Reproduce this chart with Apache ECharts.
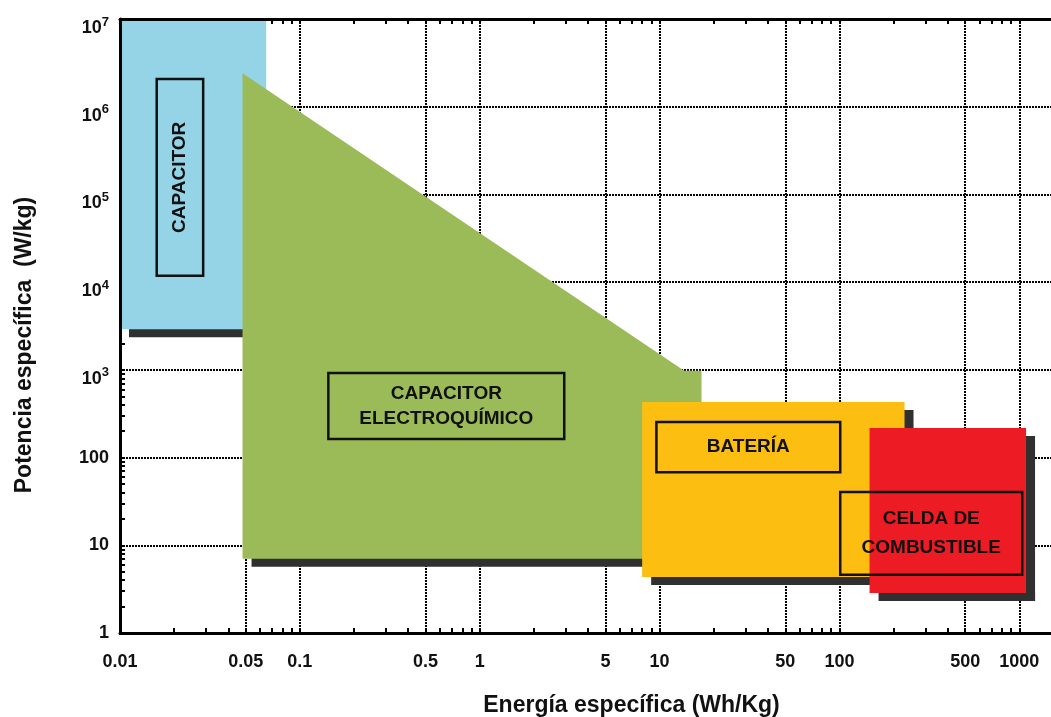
<!DOCTYPE html>
<html lang="es">
<head>
<meta charset="utf-8">
<title>Potencia específica vs Energía específica</title>
<script src="https://cdn.jsdelivr.net/npm/echarts@6/dist/echarts.min.js"></script>
<style>
  html, body { margin: 0; padding: 0; background: #ffffff; }
  #chart { width: 1051px; height: 717px; }
</style>
</head>
<body>
<div id="chart"></div>
<script>
// Energy axis (Wh/kg): labelled ticks and dotted grid positions
const energyTickLabels = [0.01, 0.05, 0.1, 0.5, 1, 5, 10, 50, 100, 500, 1000];
const energyGridValues = [0.05, 0.1, 0.5, 1, 5, 10, 50, 100, 500, 1000];

// Power axis (W/kg): labelled ticks and dotted grid positions
const powerTickLabels = [1, 10, 100, 1e3, 1e4, 1e5, 1e6, 1e7];
const powerGridValues = [10, 100, 1e3, 1e4, 1e5, 1e6];

// Technology names (as printed in their boxes)
const technologyLabels = ['CAPACITOR', 'CAPACITOR\nELECTROQUÍMICO', 'BATERÍA', 'CELDA DE\nCOMBUSTIBLE'];

// Operating regions, vertices as [energy Wh/kg, power W/kg]
const capacitorRegion = [[0.01, 1e7], [0.065, 1e7], [0.065, 2900], [0.01, 2900]];
const electrochemRegion = [[0.048, 2.4e6], [13.7, 980], [17.1, 980], [17.1, 7], [0.048, 7]];
const bateriaRegion = [[8, 430], [230, 430], [230, 4.35], [8, 4.35]];
const celdaRegion = [[147, 218], [1090, 218], [1090, 2.86], [147, 2.86]];

// Name boxes, opposite corners as [energy, power]
const capacitorNameBox = [[0.016, 2.07e6], [0.029, 1.18e4]];
const electrochemNameBox = [[0.144, 922], [2.95, 163]];
const bateriaNameBox = [[9.6, 255], [101, 68]];
const celdaNameBox = [[101, 40.5], [1038, 4.6]];

const regions = [capacitorRegion, electrochemRegion, bateriaRegion, celdaRegion];
const nameBoxes = [capacitorNameBox, electrochemNameBox, bateriaNameBox, celdaNameBox];

// Styling
const regionColors = ['#94D4E6', '#9BBB59', '#FCBE11', '#ED1C24'];
const shadowOnRight = [false, false, true, true];
const nameLineHeights = [22, 25, 22, 29];
const SHADOW = '#303030';
const SHADOW_DX = 9;
const SHADOW_DY = 8;
const FONT = '"Liberation Sans", Arial, Helvetica, sans-serif';

// Minor tick positions: 1..9 within every decade of each axis
function decadeTicks(fromExp, toExp, maxVal) {
  const out = [];
  for (let k = fromExp; k <= toExp; k++) {
    for (let m = 1; m <= 9; m++) {
      const v = Number((m * Math.pow(10, k)).toPrecision(3));
      if (v <= maxVal) out.push(v);
    }
  }
  return out;
}
const ENERGY_MIN = 0.01, ENERGY_MAX = 1500;
const POWER_MIN = 1, POWER_MAX = 1e7;
const energyMinorTicks = decadeTicks(-2, 3, ENERGY_MAX);
const powerMinorTicks = decadeTicks(0, 7, POWER_MAX);

function renderRegion(params, api) {
  const i = params.dataIndex;
  const pts = regions[i].map(p => api.coord(p));
  const xs = pts.map(p => p[0]);
  const ys = pts.map(p => p[1]);
  const x0 = Math.min(...xs), x1 = Math.max(...xs);
  const y0 = Math.min(...ys), y1 = Math.max(...ys);
  const children = [];

  // drop shadow below (and to the right for the boxed regions)
  const extra = shadowOnRight[i] ? SHADOW_DX : 0;
  children.push({
    type: 'rect',
    shape: { x: x0 + SHADOW_DX, y: y1 - 1, width: x1 - x0 - SHADOW_DX + extra, height: SHADOW_DY + 1 },
    style: { fill: SHADOW }
  });
  if (shadowOnRight[i]) {
    children.push({
      type: 'rect',
      shape: { x: x1 - 1, y: y0 + SHADOW_DY, width: SHADOW_DX + 1, height: y1 - y0 },
      style: { fill: SHADOW }
    });
  }

  // region fill
  children.push({ type: 'polygon', shape: { points: pts }, style: { fill: regionColors[i] } });

  // framed name
  const b0 = api.coord(nameBoxes[i][0]);
  const b1 = api.coord(nameBoxes[i][1]);
  children.push({
    type: 'rect',
    shape: { x: b0[0], y: b0[1], width: b1[0] - b0[0], height: b1[1] - b0[1] },
    style: { fill: 'none', stroke: '#111', lineWidth: 2.5 }
  });
  children.push({
    type: 'text',
    x: (b0[0] + b1[0]) / 2,
    y: (b0[1] + b1[1]) / 2,
    rotation: i === 0 ? Math.PI / 2 : 0,
    style: {
      text: technologyLabels[i],
      align: 'center',
      verticalAlign: 'middle',
      font: 'bold 19px ' + FONT,
      lineHeight: nameLineHeights[i],
      fill: '#111'
    }
  });
  return { type: 'group', children: children };
}

const tickLabelStyle = { fontFamily: FONT, fontWeight: 'bold', fontSize: 18, color: '#111' };
const titleStyle = { fontFamily: FONT, fontWeight: 'bold', fontSize: 23, color: '#111' };
const hidden = { show: false };

const chart = echarts.init(document.getElementById('chart'), null, { renderer: 'canvas' });

chart.setOption({
  animation: false,
  backgroundColor: '#ffffff',
  grid: { left: 120, right: 0, top: 19, bottom: 84, containLabel: false, outerBoundsMode: 'none' },
  xAxis: [
    {
      type: 'log', position: 'bottom', min: ENERGY_MIN, max: ENERGY_MAX, z: 0,
      axisLine: { show: true, onZero: false, lineStyle: { color: '#000', width: 3 } },
      axisTick: { show: true, inside: true, length: 5, lineStyle: { color: '#000', width: 2 }, customValues: energyMinorTicks },
      axisLabel: Object.assign({ customValues: energyTickLabels, margin: 20, formatter: v => String(v) }, tickLabelStyle),
      splitLine: hidden, minorTick: hidden,
      name: 'Energía específica (Wh/Kg)', nameLocation: 'middle', nameGap: 61,
      nameTextStyle: Object.assign({ padding: [0, 0, 0, 92] }, titleStyle)
    },
    {
      type: 'log', position: 'top', min: ENERGY_MIN, max: ENERGY_MAX, z: 0,
      axisLine: { show: false, onZero: false },
      axisTick: { show: true, inside: true, length: 5, lineStyle: { color: '#000', width: 2 }, customValues: energyMinorTicks },
      axisLabel: hidden, splitLine: hidden
    },
    {
      type: 'log', position: 'top', min: ENERGY_MIN, max: ENERGY_MAX, z: 10,
      axisLine: { show: true, onZero: false, lineStyle: { color: '#000', width: 3 } },
      axisTick: hidden, axisLabel: hidden, splitLine: hidden
    }
  ],
  yAxis: [
    {
      type: 'log', position: 'left', min: POWER_MIN, max: POWER_MAX, z: 0,
      axisLine: { show: false, onZero: false },
      axisTick: { show: true, inside: true, length: 5, lineStyle: { color: '#000', width: 2 }, customValues: powerMinorTicks },
      axisLabel: {
        customValues: powerTickLabels,
        margin: 11,
        formatter: v => {
          const e = Math.round(Math.log10(v));
          return e >= 3 ? '{b|10}{e|' + e + '}' : '{n|' + v + '}';
        },
        rich: {
          n: tickLabelStyle,
          b: Object.assign({ padding: [18, 0, 0, 0] }, tickLabelStyle),
          e: { fontFamily: FONT, fontWeight: 'bold', fontSize: 13, color: '#111', padding: [6, 0, 0, 0] }
        }
      },
      splitLine: hidden, minorTick: hidden
    },
    {
      type: 'log', position: 'left', min: POWER_MIN, max: POWER_MAX, z: 10,
      axisLine: { show: true, onZero: false, lineStyle: { color: '#000', width: 3 } },
      axisTick: hidden, axisLabel: hidden, splitLine: hidden,
      name: 'Potencia específica  (W/kg)', nameLocation: 'middle', nameGap: 84,
      nameTextStyle: Object.assign({ padding: [0, 38, 0, 0] }, titleStyle)
    }
  ],
  series: [
    {
      // dotted reference grid, kept beneath the regions
      type: 'line', xAxisIndex: 0, yAxisIndex: 0, data: [], z: 1, silent: true,
      markLine: {
        z: 1, silent: true, symbol: ['none', 'none'], animation: false,
        label: { show: false },
        lineStyle: { color: '#000', type: [2, 1], width: 2 },
        emphasis: { disabled: true },
        data: energyGridValues.map(v => ({ xAxis: v })).concat(powerGridValues.map(v => ({ yAxis: v })))
      }
    },
    {
      type: 'custom', xAxisIndex: 0, yAxisIndex: 0, z: 3, silent: true, clip: false,
      renderItem: renderRegion,
      data: technologyLabels.map((name, i) => ({ name: name, value: regions[i][0] }))
    }
  ]
});
</script>
</body>
</html>
